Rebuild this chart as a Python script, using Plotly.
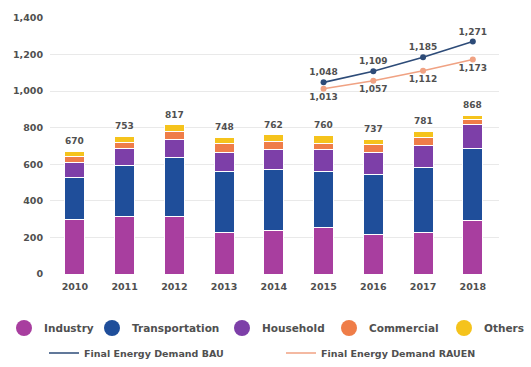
import plotly.graph_objects as go

# Final energy demand by sector (stacked) and projections
years = ["2010", "2011", "2012", "2013", "2014", "2015", "2016", "2017", "2018"]
industry = [300, 317, 313, 226, 237, 255, 217, 228, 295]
transportation = [226, 279, 325, 337, 332, 304, 328, 355, 392]
household = [82, 90, 95, 100, 113, 121, 118, 119, 133]
commercial = [35, 35, 45, 48, 41, 36, 45, 45, 27]
others = [27, 32, 39, 37, 39, 44, 29, 34, 21]

proj_years = ["2015", "2016", "2017", "2018"]
bau = [1048, 1109, 1185, 1271]
rauen = [1013, 1057, 1112, 1173]

sectors = [
    ("Industry", industry, "#A83E9F"),
    ("Transportation", transportation, "#1F4E9A"),
    ("Household", household, "#7D3FA8"),
    ("Commercial", commercial, "#EF7D48"),
    ("Others", others, "#F5C31C"),
]
BAU_COLOR = "#2D4B78"
RAUEN_COLOR = "#F0A283"
TEXT = "#505050"
FONT = "DejaVu Sans"
bold = lambda size: dict(family=FONT, size=size, color=TEXT, weight="bold")

W, H = 531, 367
ML, MR, MT, MB = 50, 32, 18, 93
PW, PH = W - ML - MR, H - MT - MB

fig = go.Figure()

for name, vals, color in sectors:
    fig.add_trace(go.Bar(
        x=years, y=vals, name=name, marker_color=color,
        marker_line_color="white", marker_line_width=1,
        showlegend=False, hoverinfo="x+y+name",
    ))

# Stack totals written above each bar (annotation x is the category index)
totals = [sum(v) for v in zip(industry, transportation, household, commercial, others)]
for i, t in enumerate(totals):
    fig.add_annotation(
        x=i, y=t, xref="x", yref="y", text=f"{t:,}", showarrow=False,
        yanchor="bottom", yshift=3, font=bold(9),
    )

# Projection lines (legend shows the line only), then points with value labels
for name, vals, color, pos, lid in (
    ("Final Energy Demand BAU", bau, BAU_COLOR, "top center", "legend6"),
    ("Final Energy Demand RAUEN", rauen, RAUEN_COLOR, "bottom center", "legend7"),
):
    fig.add_trace(go.Scatter(
        x=proj_years, y=vals, mode="lines", name=name,
        line=dict(color=color, width=1.6), legend=lid, hoverinfo="skip",
    ))
    fig.add_trace(go.Scatter(
        x=proj_years, y=vals, mode="markers+text", name=name,
        marker=dict(color=color, size=6), showlegend=False,
        texttemplate="%{y:,}", textposition=pos, textfont=bold(9),
        cliponaxis=False,
    ))

# Legend swatches for the sectors (round markers)
legend_ids = ["legend", "legend2", "legend3", "legend4", "legend5"]
for (name, _, color), lid in zip(sectors, legend_ids):
    fig.add_trace(go.Scatter(
        x=[None], y=[None], mode="markers", name=name,
        marker=dict(color=color, size=16), legend=lid, hoverinfo="skip",
    ))


def px_x(px):
    return (px - ML) / PW


def px_y(py):
    return (H - MB - py) / PH


row1_starts = [4, 92, 222, 329, 444]
legends = {}
for lid, sx in zip(legend_ids, row1_starts):
    legends[lid] = dict(
        x=px_x(sx), y=px_y(328), xanchor="left", yanchor="middle",
        orientation="h", font=bold(10.5), bgcolor="rgba(0,0,0,0)",
        itemsizing="trace",
    )
for lid, sx in (("legend6", 44), ("legend7", 281)):
    legends[lid] = dict(
        x=px_x(sx), y=px_y(353), xanchor="left", yanchor="middle",
        orientation="h", font=bold(9.5), bgcolor="rgba(0,0,0,0)",
    )

fig.update_layout(
    width=W, height=H,
    margin=dict(l=ML, r=MR, t=MT, b=MB, pad=0, autoexpand=False),
    barmode="stack", bargap=0.6,
    plot_bgcolor="white", paper_bgcolor="white",
    font=dict(family=FONT, color=TEXT),
    xaxis=dict(
        type="category", categoryorder="array", categoryarray=years,
        showgrid=False, showline=False, ticks="",
        tickfont=bold(9.5), ticklabelstandoff=5,
    ),
    yaxis=dict(
        range=[0, 1400], dtick=200, tickformat=",", showline=False,
        gridcolor="#E9E9E9", gridwidth=1, zeroline=False,
        tickfont=bold(9.5), ticklabelstandoff=6,
    ),
    **legends,
)

fig.write_html("out.html")
